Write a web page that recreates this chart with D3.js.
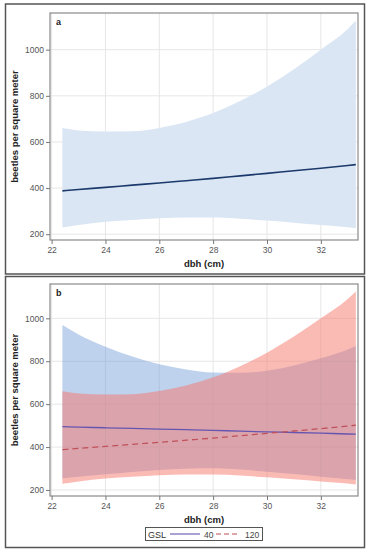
<!DOCTYPE html>
<html>
<head>
<meta charset="utf-8">
<script src="https://cdn.jsdelivr.net/npm/d3@7"></script>
<style>
  body { margin: 0; background: #fff; }
  svg { display: block; font-family: "Liberation Sans", Arial, sans-serif; }
</style>
</head>
<body>
<svg id="chart" width="369" height="550"></svg>
<script>
// dbh values where the curves were read
var dbh = [22.4, 23, 24, 25, 26, 27, 28, 29, 30, 31, 32, 33, 33.3];

// GSL 120 (panel a and red series in b)
var fit120 = [388, 394, 403, 413, 422, 432, 442, 453, 464, 475, 486, 498, 502];
var upper120 = [660, 650, 645, 646, 661, 687, 725, 777, 840, 915, 1000, 1090, 1125];
var lower120 = [229, 240, 254, 262, 269, 272, 272, 267, 259, 250, 240, 230, 226];

// GSL 40 (blue series in b)
var fit40 = [495, 493, 490, 487, 484, 481, 478, 474, 471, 468, 465, 461, 460];
var upper40 = [969, 925, 868, 822, 786, 762, 747, 746, 756, 780, 814, 855, 871];
var lower40 = [254, 262, 273, 284, 293, 299, 301, 295, 285, 274, 262, 250, 247];

var xTicks = [22, 24, 26, 28, 30, 32];
var yTicks = [200, 400, 600, 800, 1000];
var legendLabels = ["40", "120"];

var svg = d3.select("#chart");

function rows(up, lo, mid) {
  return dbh.map(function(d, i) { return {x: d, up: up[i], lo: lo[i], mid: mid[i]}; });
}

function drawPanel(top, bottom, yDomain, label, series) {
  var x = d3.scaleLinear().domain([21.94, 33.38]).range([50, 358]);
  var y = d3.scaleLinear().domain(yDomain).range([bottom, top]);
  var g = svg.append("g");

  // grid
  g.selectAll(".gx").data(xTicks).enter().append("line")
    .attr("x1", d => x(d)).attr("x2", d => x(d))
    .attr("y1", top).attr("y2", bottom)
    .attr("stroke", "#e6e6e6").attr("stroke-width", 1);
  g.selectAll(".gy").data(yTicks).enter().append("line")
    .attr("x1", 50).attr("x2", 358)
    .attr("y1", d => y(d)).attr("y2", d => y(d))
    .attr("stroke", "#e6e6e6").attr("stroke-width", 1);

  var area = d3.area().curve(d3.curveMonotoneX)
    .x(d => x(d.x)).y0(d => y(d.lo)).y1(d => y(d.up));
  var line = d3.line().curve(d3.curveMonotoneX)
    .x(d => x(d.x)).y(d => y(d.mid));

  series.forEach(function(s) {
    g.append("path").datum(s.data)
      .attr("d", area)
      .attr("fill", s.fill).attr("fill-opacity", s.opacity);
  });
  series.forEach(function(s) {
    g.append("path").datum(s.data)
      .attr("d", line)
      .attr("fill", "none")
      .attr("stroke", s.stroke)
      .attr("stroke-width", s.width)
      .attr("stroke-dasharray", s.dash || null);
  });

  // frame
  g.append("rect").attr("x", 50).attr("y", top)
    .attr("width", 308).attr("height", bottom - top)
    .attr("fill", "none").attr("stroke", "#8a8a8a").attr("stroke-width", 1.2);

  var xAxis = g.append("g").attr("transform", "translate(0," + bottom + ")")
    .call(d3.axisBottom(x).tickValues(xTicks).tickSize(4).tickPadding(3).tickFormat(d3.format("d")));
  var yAxis = g.append("g").attr("transform", "translate(50,0)")
    .call(d3.axisLeft(y).tickValues(yTicks).tickSize(4).tickPadding(2).tickFormat(d3.format("d")));
  [xAxis, yAxis].forEach(function(a) {
    a.select(".domain").remove();
    a.selectAll("line").attr("stroke", "#777");
    a.selectAll("text").attr("fill", "#555").attr("font-size", 8.5)
      .attr("font-family", "Liberation Sans, Arial, sans-serif");
  });

  g.append("text").attr("x", 204).attr("y", bottom + 27)
    .attr("text-anchor", "middle").attr("font-size", 9.5).attr("font-weight", "bold")
    .attr("fill", "#222").text("dbh (cm)");
  g.append("text")
    .attr("transform", "translate(18," + ((top + bottom) / 2) + ") rotate(-90)")
    .attr("text-anchor", "middle").attr("font-size", 9.5).attr("font-weight", "bold")
    .attr("fill", "#222").text("beetles per square meter");
  g.append("text").attr("x", 56).attr("y", top + 12)
    .attr("font-size", 9).attr("font-weight", "bold").attr("fill", "#222").text(label);
}

// outer panel borders
svg.append("rect").attr("x", 5.5).attr("y", 4).attr("width", 359).attr("height", 270)
  .attr("fill", "none").attr("stroke", "#555").attr("stroke-width", 1.5);
svg.append("rect").attr("x", 5.5).attr("y", 276.5).attr("width", 359).attr("height", 271)
  .attr("fill", "none").attr("stroke", "#555").attr("stroke-width", 1.5);

drawPanel(13, 240, [175, 1159], "a", [
  {data: rows(upper120, lower120, fit120), fill: "#dae6f3", opacity: 1, stroke: "#1b3a6b", width: 1.6}
]);

drawPanel(284, 496, [172, 1160], "b", [
  {data: rows(upper40, lower40, fit40), fill: "#6f9ad6", opacity: 0.45, stroke: "#6655b0", width: 1.3},
  {data: rows(upper120, lower120, fit120), fill: "#f8776b", opacity: 0.5, stroke: "#c0505a", width: 1.3, dash: "6,4"}
]);

// legend for panel b
var leg = svg.append("g");
leg.append("rect").attr("x", 145.5).attr("y", 527.5).attr("width", 117).attr("height", 13)
  .attr("fill", "#fff").attr("stroke", "#555").attr("stroke-width", 1);
leg.append("text").attr("x", 148).attr("y", 537.5).attr("font-size", 9).attr("fill", "#333").text("GSL");
var legItems = [
  {x1: 170, x2: 200, tx: 204, stroke: "#6655b0", dash: null, label: legendLabels[0]},
  {x1: 216, x2: 240, tx: 245, stroke: "#c0505a", dash: "5,3", label: legendLabels[1]}
];
legItems.forEach(function(d) {
  leg.append("line").attr("x1", d.x1).attr("x2", d.x2).attr("y1", 534).attr("y2", 534)
    .attr("stroke", d.stroke).attr("stroke-width", 1.1).attr("stroke-dasharray", d.dash);
  leg.append("text").attr("x", d.tx).attr("y", 537.5).attr("font-size", 8.5)
    .attr("fill", "#444").text(d.label);
});
</script>
</body>
</html>
